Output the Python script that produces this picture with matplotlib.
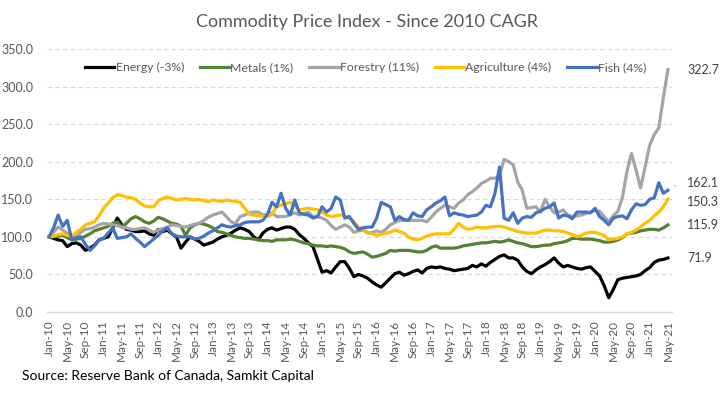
import matplotlib
matplotlib.use("Agg")
import matplotlib.pyplot as plt
import pandas as pd

plt.rcParams["font.family"] = ["Lato", "DejaVu Sans"]

# monthly index values, Jan-10 .. May-21 (2010 = 100)
months = pd.date_range("2010-01-01", "2021-05-01", freq="MS").strftime("%b-%y").tolist()

energy = [
    100, 98, 96, 95, 87, 91, 92, 89, 82, 85, 89, 96,
    98, 100, 112, 125, 116, 110, 109, 107, 107, 108, 104, 102,
    110, 107, 109, 104, 100, 85, 93, 100, 97, 94, 89, 91,
    93, 97, 100, 102, 105, 109, 112, 110, 107, 100, 96, 105,
    110, 112, 109, 111, 113, 113, 110, 103, 98, 92, 87, 70,
    53, 55, 52, 60, 67, 67, 58, 47, 50, 48, 45, 40,
    36, 33, 39, 45, 51, 53, 49, 51, 54, 56, 52, 58,
    60, 59, 60, 58, 57, 55, 56, 57, 58, 62, 60, 64,
    61, 66, 70, 74, 76, 72, 72, 69, 60, 54, 51, 56,
    60, 63, 67, 72, 65, 60, 62, 60, 58, 57, 59, 60,
    54, 48, 35, 19, 30, 43, 45, 46, 47, 48, 50, 55,
    59, 66, 69, 70, 71.9,
]
metals = [
    100, 100, 101, 102, 99, 96, 97, 98, 101, 104, 108, 110,
    112, 114, 118, 120, 113, 118, 124, 127, 124, 120, 118, 121,
    126, 124, 121, 118, 117, 114, 102, 112, 116, 118, 117, 115,
    112, 107, 106, 104, 102, 100, 99, 98, 98, 97, 96, 95,
    95, 94, 96, 96, 96, 97, 96, 94, 92, 91, 89, 88,
    88, 87, 88, 87, 86, 84, 80, 78, 79, 80, 77, 73,
    74, 76, 78, 82, 81, 82, 82, 82, 81, 80, 80, 82,
    86, 88, 85, 85, 85, 85, 86, 88, 89, 90, 91, 92,
    92, 93, 94, 93, 94, 96, 94, 92, 91, 89, 87, 87,
    88, 89, 89, 91, 92, 93, 95, 98, 98, 97, 97, 97,
    96, 95, 93, 93, 94, 96, 99, 104, 105, 106, 108, 109,
    110, 110, 109, 112, 115.9,
]
forestry = [
    100, 106, 113, 109, 105, 102, 100, 106, 110, 111, 113, 116,
    118, 117, 116, 115, 113, 112, 110, 110, 111, 112, 109, 106,
    109, 111, 113, 116, 115, 114, 113, 115, 117, 118, 122, 126,
    129, 131, 133, 127, 120, 118, 127, 129, 132, 133, 133, 129,
    130, 132, 127, 127, 127, 130, 132, 129, 131, 133, 127, 127,
    125, 122, 115, 110, 113, 116, 113, 106, 108, 109, 105, 106,
    108, 106, 110, 116, 119, 122, 122, 122, 122, 122, 122, 120,
    126, 133, 138, 142, 140, 138, 145, 149, 156, 160, 165, 171,
    174, 178, 178, 181, 203, 200, 196, 173, 162, 138, 139, 140,
    133, 150, 140, 132, 133, 136, 129, 127, 128, 129, 131, 133,
    135, 134, 127, 120, 128, 134, 152, 187, 211, 189, 165, 193,
    222, 236, 245, 285, 322.7,
]
agriculture = [
    100, 101, 103, 104, 102, 101, 106, 110, 116, 118, 120, 128,
    138, 145, 152, 156, 155, 153, 152, 150, 145, 141, 140, 140,
    148, 151, 153, 151, 149, 150, 151, 150, 149, 150, 148, 147,
    149, 148, 147, 149, 148, 147, 146, 138, 130, 129, 128, 128,
    127, 130, 140, 142, 144, 146, 142, 136, 137, 138, 137, 136,
    133, 129, 127, 128, 129, 128, 125, 120, 113, 110, 106, 104,
    102, 103, 105, 106, 109, 107, 105, 100, 97, 96, 98, 101,
    103, 104, 104, 104, 104, 110, 118, 113, 110, 111, 113, 112,
    112, 113, 114, 114, 113, 111, 109, 107, 106, 105, 105, 105,
    107, 109, 109, 108, 108, 107, 105, 103, 100, 102, 105, 106,
    106, 104, 102, 96, 97, 98, 100, 104, 106, 109, 113, 118,
    122, 128, 133, 140, 150.3,
]
fish = [
    100, 112, 129, 114, 122, 96, 99, 100, 90, 82, 88, 96,
    98, 105, 112, 98, 99, 100, 104, 98, 93, 87, 92, 97,
    102, 108, 112, 104, 101, 100, 100, 100, 97, 98, 101, 105,
    108, 112, 116, 114, 113, 115, 116, 119, 120, 120, 120, 122,
    130, 146, 140, 158, 138, 129, 149, 132, 130, 129, 125, 127,
    140, 133, 138, 153, 149, 125, 127, 118, 110, 112, 113, 113,
    125, 146, 143, 140, 122, 127, 123, 122, 132, 128, 127, 136,
    140, 145, 148, 153, 128, 132, 130, 129, 127, 128, 129, 133,
    142, 140, 158, 193, 125, 122, 132, 118, 125, 127, 126, 132,
    134, 138, 140, 145, 125, 129, 128, 124, 133, 133, 133, 132,
    138, 127, 122, 116, 125, 127, 128, 124, 136, 144, 142, 143,
    150, 152, 172, 158, 162.1,
]

series = [
    ("Energy (-3%)", energy, "#000000"),
    ("Metals (1%)", metals, "#548235"),
    ("Forestry (11%)", forestry, "#A5A5A5"),
    ("Agriculture (4%)", agriculture, "#FFC000"),
    ("Fish (4%)", fish, "#4472C4"),
]

text_col = "#595959"
grid_col = "#D9D9D9"

fig = plt.figure(figsize=(7.26, 3.96), dpi=100)
ax = fig.add_axes([0.0647, 0.2121, 0.8609, 0.6642])

x = list(range(len(months)))
for label, vals, col in series:
    ax.plot(x, vals, color=col, lw=2.3, label=label, solid_joinstyle="round")

ax.set_xlim(-0.45, 136.9)
ax.set_ylim(0, 350)
ax.set_yticks(range(0, 351, 50))
ax.set_yticklabels([f"{v:.1f}" for v in range(0, 351, 50)])
ax.yaxis.grid(True, color=grid_col, ls=(0, (4, 3)), lw=0.8)
ax.set_axisbelow(True)

ticks = x[::4]
ax.set_xticks(ticks)
ax.set_xticklabels([months[i] for i in ticks], rotation=90)
ax.tick_params(axis="x", length=0, pad=6, labelsize=8.5, colors=text_col)
ax.tick_params(axis="y", length=0, pad=10, labelsize=9, colors=text_col)

for side in ["top", "right", "left"]:
    ax.spines[side].set_visible(False)
ax.spines["bottom"].set_color(grid_col)
ax.spines["bottom"].set_linewidth(1)

# end labels
last = len(months) - 1
end_labels = [
    (forestry[-1], 0),
    (fish[-1], 5),
    (agriculture[-1], -2),
    (metals[-1], 0),
    (energy[-1], 0),
]
for val, dy in end_labels:
    ax.annotate(f"{val:.1f}", xy=(last, val), xytext=(14, dy),
                textcoords="offset points", va="center", ha="left",
                fontsize=9, color="#404040", annotation_clip=False)
# short leader for the fish label
ax.annotate("", xy=(last + 0.9, fish[-1] + 5), xytext=(last + 2.3, fish[-1] + 6.5),
            arrowprops=dict(arrowstyle="-", color="#A6A6A6", lw=0.8),
            annotation_clip=False)

ax.legend(loc="center", bbox_to_anchor=(0.51, 0.93), ncol=5, frameon=False,
          fontsize=8.8, handlelength=2.4, handletextpad=0.1, columnspacing=1.3,
          labelcolor=text_col)

fig.text(0.505, 0.945, "Commodity Price Index - Since 2010 CAGR", ha="center",
         va="center", fontsize=13, color=text_col)
fig.text(0.03, 0.05, "Source: Reserve Bank of Canada, Samkit Capital",
         ha="left", va="center", fontsize=10, color="#000000")

fig.savefig("out.png", dpi=100)
